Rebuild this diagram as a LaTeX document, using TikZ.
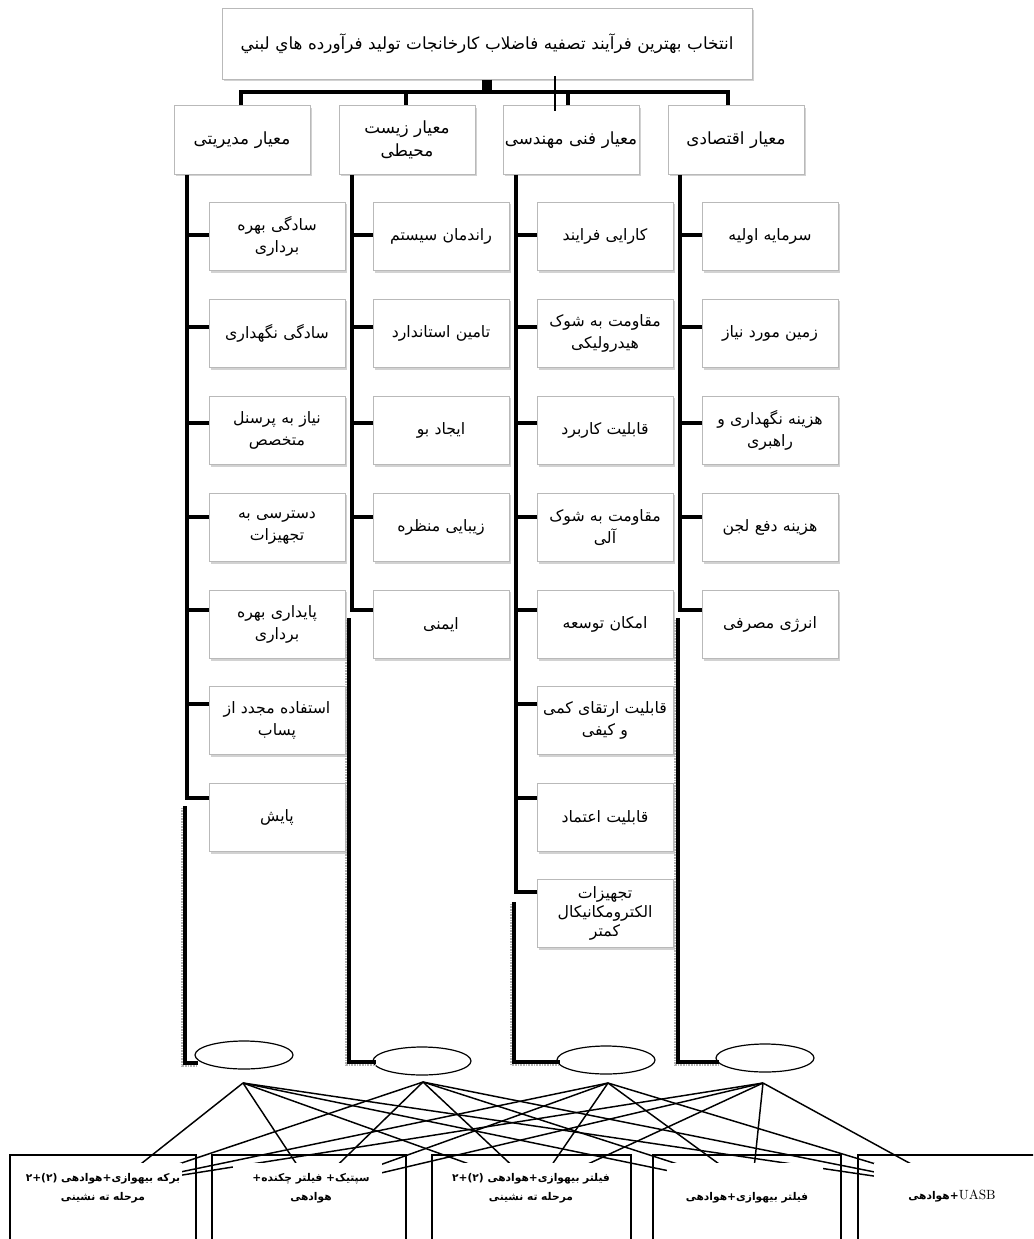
\documentclass[tikz,border=0pt]{standalone}
\usepackage{fontspec}
\usetikzlibrary{shapes.geometric,shadows}
\TeXXeTstate=1
\newfontfamily\arabicfont[Script=Arabic]{DejaVu Sans}
\newcommand\rl[1]{\beginR #1\endR}
\begin{document}
\begin{tikzpicture}[x=0.75pt,y=-0.75pt,
  bx/.style={draw=gray!55, line width=0.75pt, fill=white, text width=100pt, inner sep=1pt,
    minimum height=51.5pt, align=center, font=\arabicfont\fontsize{11.8}{17}\selectfont,
    general shadow={fill=gray!35, shadow xshift=1.3pt, shadow yshift=-1.6pt}},
  trunk/.style={line width=3pt, line join=miter},
  shd/.style={gray!60, line width=2pt, dash pattern=on 0.6pt off 0.6pt},
  ell/.style={ellipse, draw, line width=0.9pt, minimum width=73.5pt, minimum height=21pt, inner sep=0pt},
  ln/.style={line width=1.1pt},
  alt/.style={draw, line width=1.1pt, inner sep=0pt, outer sep=0pt, minimum height=82.5pt},
  alttxt/.style={align=center, inner sep=0pt, font=\arabicfont\bfseries\fontsize{8}{14}\selectfont}
]
\useasboundingbox (0,0) rectangle (1033,1239);
\clip (0,0) rectangle (1033,1239);

% ---------- title and criteria ----------
\node[bx, text width=395.5pt, minimum height=53.25pt, font=\arabicfont\fontsize{12.6}{15}\selectfont]
  (title) at (487,43.5) {\rl{انتخاب بهترین فرآیند تصفیه فاضلاب کارخانجات تولید فرآورده هاي لبني}};

\node[bx, font=\arabicfont\fontsize{12.6}{17}\selectfont] (k1) at (242,140) {\rl{معیار مدیریتی}};
\node[bx, font=\arabicfont\fontsize{12.6}{17}\selectfont] (k2) at (407,140) {\rl{معیار زیست}\\\rl{محیطی}};
\node[bx, font=\arabicfont\fontsize{12.6}{17}\selectfont] (k3) at (571,140) {\rl{معیار فنی مهندسی}};
\node[bx, font=\arabicfont\fontsize{12.6}{17}\selectfont] (k4) at (736,140) {\rl{معیار اقتصادی}};

% ---------- column 1 ----------
\node[bx] (c11) at (277,236.5) {\rl{سادگی بهره}\\\rl{برداری}};
\node[bx] (c12) at (277,333.5) {\rl{سادگی نگهداری}};
\node[bx] (c13) at (277,430.5) {\rl{نیاز به پرسنل}\\\rl{متخصص}};
\node[bx] (c14) at (277,527.5) {\rl{دسترسی به}\\\rl{تجهیزات}};
\node[bx] (c15) at (277,624.5) {\rl{پایداری بهره}\\\rl{برداری}};
\node[bx] (c16) at (277,720.5) {\rl{استفاده مجدد از}\\\rl{پساب}};
\node[bx] (c17) at (277,817.5) {\rl{پایش}};

% ---------- column 2 ----------
\node[bx] (c21) at (441,236.5) {\rl{راندمان سیستم}};
\node[bx] (c22) at (441,333.5) {\rl{تامین استاندارد}};
\node[bx] (c23) at (441,430.5) {\rl{ایجاد بو}};
\node[bx] (c24) at (441,527.5) {\rl{زیبایی منظره}};
\node[bx] (c25) at (441,624.5) {\rl{ایمنی}};

% ---------- column 3 ----------
\node[bx] (c31) at (605,236.5) {\rl{کارایی فرایند}};
\node[bx] (c32) at (605,333.5) {\rl{مقاومت به شوک}\\\rl{هیدرولیکی}};
\node[bx] (c33) at (605,430.5) {\rl{قابلیت کاربرد}};
\node[bx] (c34) at (605,527.5) {\rl{مقاومت به شوک}\\\rl{آلی}};
\node[bx] (c35) at (605,624.5) {\rl{امکان توسعه}};
\node[bx] (c36) at (605,720.5) {\rl{قابلیت ارتقای کمی}\\\rl{و کیفی}};
\node[bx] (c37) at (605,817.5) {\rl{قابلیت اعتماد}};
\node[bx, font=\arabicfont\fontsize{11.8}{14.5}\selectfont] (c38) at (605,913.5) {\rl{تجهیزات}\\\rl{الکترومکانیکال}\\\rl{کمتر}};

% ---------- column 4 ----------
\node[bx] (c41) at (770,236.5) {\rl{سرمایه اولیه}};
\node[bx] (c42) at (770,333.5) {\rl{زمین مورد نیاز}};
\node[bx] (c43) at (770,430.5) {\rl{هزینه نگهداری و}\\\rl{راهبری}};
\node[bx] (c44) at (770,527.5) {\rl{هزینه دفع لجن}};
\node[bx] (c45) at (770,624.5) {\rl{انرژی مصرفی}};

% ---------- top connectors ----------
\draw[line width=7.5pt] (title.south) -- (title.south |- 0,92);
\draw[trunk] (k1.north -| 241,0) |- (728,92) -- (k4.north -| 728,0);
\draw[trunk] (406,92) -- (k2.north -| 406,0);
\draw[trunk] (568,92) -- (k3.north -| 568,0);
\draw[line width=0.8pt] (555,76) -- (k3.north -| 555,0) -- ++(0,6);

% ---------- column trunks and stubs ----------
\draw[trunk] (k1.south -| 187,0) -- (187,798) -- (c17.west |- 0,798);
\foreach \n/\y in {c11/235,c12/327,c13/423,c14/517,c15/610,c16/704}
  \draw[trunk] (187,\y) -- (\n.west |- 0,\y);
\draw[trunk] (k2.south -| 352,0) -- (352,610) -- (c25.west |- 0,610);
\foreach \n/\y in {c21/235,c22/327,c23/423,c24/517}
  \draw[trunk] (352,\y) -- (\n.west |- 0,\y);
\draw[trunk] (k3.south -| 516,0) -- (516,892) -- (c38.west |- 0,892);
\foreach \n/\y in {c31/235,c32/327,c33/423,c34/517,c35/610,c36/704,c37/798}
  \draw[trunk] (516,\y) -- (\n.west |- 0,\y);
\draw[trunk] (k4.south -| 680,0) -- (680,610) -- (c45.west |- 0,610);
\foreach \n/\y in {c41/235,c42/327,c43/423,c44/517}
  \draw[trunk] (680,\y) -- (\n.west |- 0,\y);

% ---------- ellipses ----------
\node[ell] (e1) at (244,1055) {};
\node[ell] (e2) at (422,1061) {};
\node[ell] (e3) at (606,1060) {};
\node[ell] (e4) at (765,1058) {};

% ---------- lower trunks ----------
\draw[shd] (182,808) |- ([xshift=2pt]e1.west |- 0,1066);
\draw[trunk] (185,806) |- ([xshift=3pt]e1.west |- 0,1063);
\draw[shd] (346,620) |- ([xshift=2pt]e2.west |- 0,1065);
\draw[trunk] (349,618) |- ([xshift=2.5pt]e2.west |- 0,1062);
\draw[shd] (511,904) |- ([xshift=2pt]e3.west |- 0,1065);
\draw[trunk] (514,902) |- ([xshift=2.5pt]e3.west |- 0,1062);
\draw[shd] (675,620) |- ([xshift=2pt]e4.west |- 0,1065);
\draw[trunk] (678,618) |- ([xshift=2.5pt]e4.west |- 0,1062);

% ---------- apexes and alternatives ----------
\coordinate (a1) at (243,1083);
\coordinate (a2) at (423,1082);
\coordinate (a3) at (608,1083);
\coordinate (a4) at (763,1083);
\coordinate (g1) at (113,1186);
\coordinate (g2) at (313,1189);
\coordinate (g3) at (536,1188);
\coordinate (g4) at (752,1188);
\coordinate (g5) at (955,1188);
\foreach \a in {a1,a2,a3,a4}
  \foreach \g in {g1,g2,g3,g4,g5}
    \draw[ln] (\a) -- (\g);

\fill[white] (25,1163) rectangle (182,1245);
\fill[white] (233,1163) rectangle (382,1245);
\fill[white] (447,1163) rectangle (617,1245);
\fill[white] (667,1163) rectangle (823,1245);
\fill[white] (874,1163) rectangle (1040,1245);

\node[alt, minimum width=139.5pt] (b1) at (103,1210) {};
\node[alt, minimum width=145.5pt] (b2) at (309,1210) {};
\node[alt, minimum width=149.25pt] (b3) at (531.5,1210) {};
\node[alt, minimum width=141pt] (b4) at (747,1210) {};
\node[alt, minimum width=140.25pt] (b5) at (951.5,1210) {};

\node[alttxt] (n1) at (103,1188) {\rl{برکه بیهوازی+هوادهی (۲)+۲}\\\rl{مرحله ته نشینی}};
\node[alttxt] (n2) at (311,1188) {\rl{سپتیک+ فیلتر چکنده+}\\\rl{هوادهی}};
\node[alttxt] (n3) at (531,1188) {\rl{فیلتر بیهوازی+هوادهی (۲)+۲}\\\rl{مرحله ته نشینی}};
\node[alttxt] (n4) at (747,1198) {\rl{فیلتر بیهوازی+هوادهی}};
\node[alttxt] (n5) at (952,1196) {\rl{\beginL{\rmfamily\mdseries\fontsize{10}{12}\selectfont UASB}\endL+هوادهی}};
\end{tikzpicture}
\end{document}
